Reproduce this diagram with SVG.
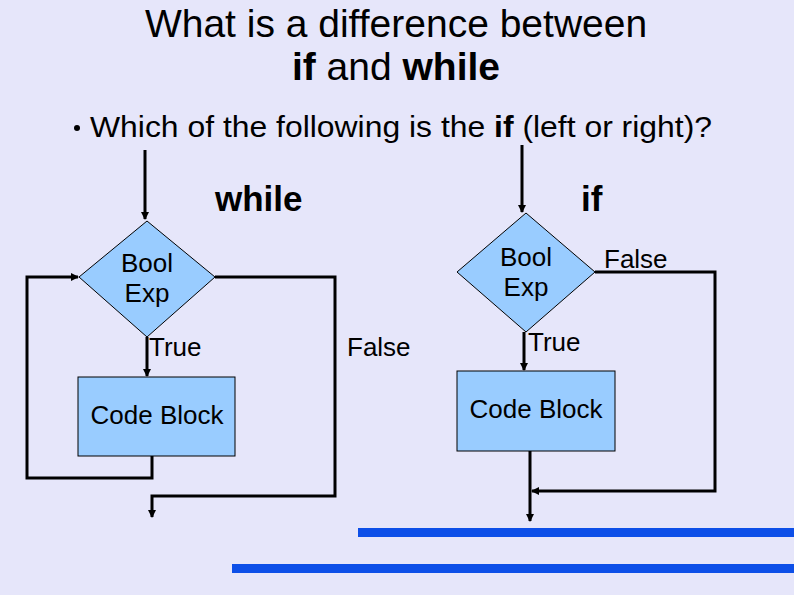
<svg xmlns="http://www.w3.org/2000/svg" width="794" height="595" viewBox="0 0 794 595">
<style>
text{font-family:"Liberation Sans",Arial,sans-serif;fill:#000}
.ln{fill:none;stroke:#000;stroke-width:3}
.shape{fill:#99ccff;stroke:#000;stroke-width:1}
.lbl{font-size:26px}
</style>
<defs>
<marker id="ah" markerWidth="8" markerHeight="8" refX="7" refY="4" orient="auto" markerUnits="userSpaceOnUse"><path d="M0,0L8,4L0,8z" fill="#000"/></marker>
</defs>
<rect width="794" height="595" fill="#e6e6fa"/>
<text x="396" y="37" font-size="39" text-anchor="middle">What is a difference between</text>
<text x="396" y="80" font-size="39" text-anchor="middle"><tspan font-weight="bold">if</tspan> and <tspan font-weight="bold">while</tspan></text>
<circle cx="77" cy="128" r="3" fill="#000"/>
<text x="90" y="137" font-size="30" textLength="622" lengthAdjust="spacingAndGlyphs">Which of the following is the <tspan font-weight="bold">if</tspan> (left or right)?</text>
<text x="215" y="211" font-size="35" font-weight="bold">while</text>
<text x="581" y="211" font-size="35" font-weight="bold">if</text>
<g id="connectors">
<path class="ln" d="M145,150V219" marker-end="url(#ah)"/>
<path class="ln" d="M147,337V376" marker-end="url(#ah)"/>
<path class="ln" d="M152,456V478H27V277H78" marker-end="url(#ah)"/>
<path class="ln" d="M215,277H335V496H152V517" marker-end="url(#ah)"/>
<path class="ln" d="M522,145V212" marker-end="url(#ah)"/>
<path class="ln" d="M524,332V370" marker-end="url(#ah)"/>
<path class="ln" d="M595,272H715V491H532" marker-end="url(#ah)"/>
<path class="ln" d="M530,451V521" marker-end="url(#ah)"/>
</g>
<g id="while-cond"><polygon class="shape" points="147,221 215,277 147,337 79,277"/><text class="lbl" x="147" y="272" text-anchor="middle">Bool</text><text class="lbl" x="147" y="302" text-anchor="middle">Exp</text></g>
<g id="while-block"><rect class="shape" x="78" y="377" width="157" height="79"/><text class="lbl" x="157" y="424" text-anchor="middle">Code Block</text></g>
<g id="if-cond"><polygon class="shape" points="526,213 595,272 526,332 457,272"/><text class="lbl" x="526" y="266" text-anchor="middle">Bool</text><text class="lbl" x="526" y="296" text-anchor="middle">Exp</text></g>
<g id="if-block"><rect class="shape" x="457" y="371" width="158" height="80"/><text class="lbl" x="536" y="418" text-anchor="middle">Code Block</text></g>
<text class="lbl" x="149" y="356">True</text>
<text class="lbl" x="347" y="356">False</text>
<text class="lbl" x="528" y="351">True</text>
<text class="lbl" x="604" y="268">False</text>
<rect x="358" y="528" width="436" height="9" fill="#0d4fe8"/>
<rect x="232" y="564" width="562" height="9" fill="#0d4fe8"/>
</svg>
